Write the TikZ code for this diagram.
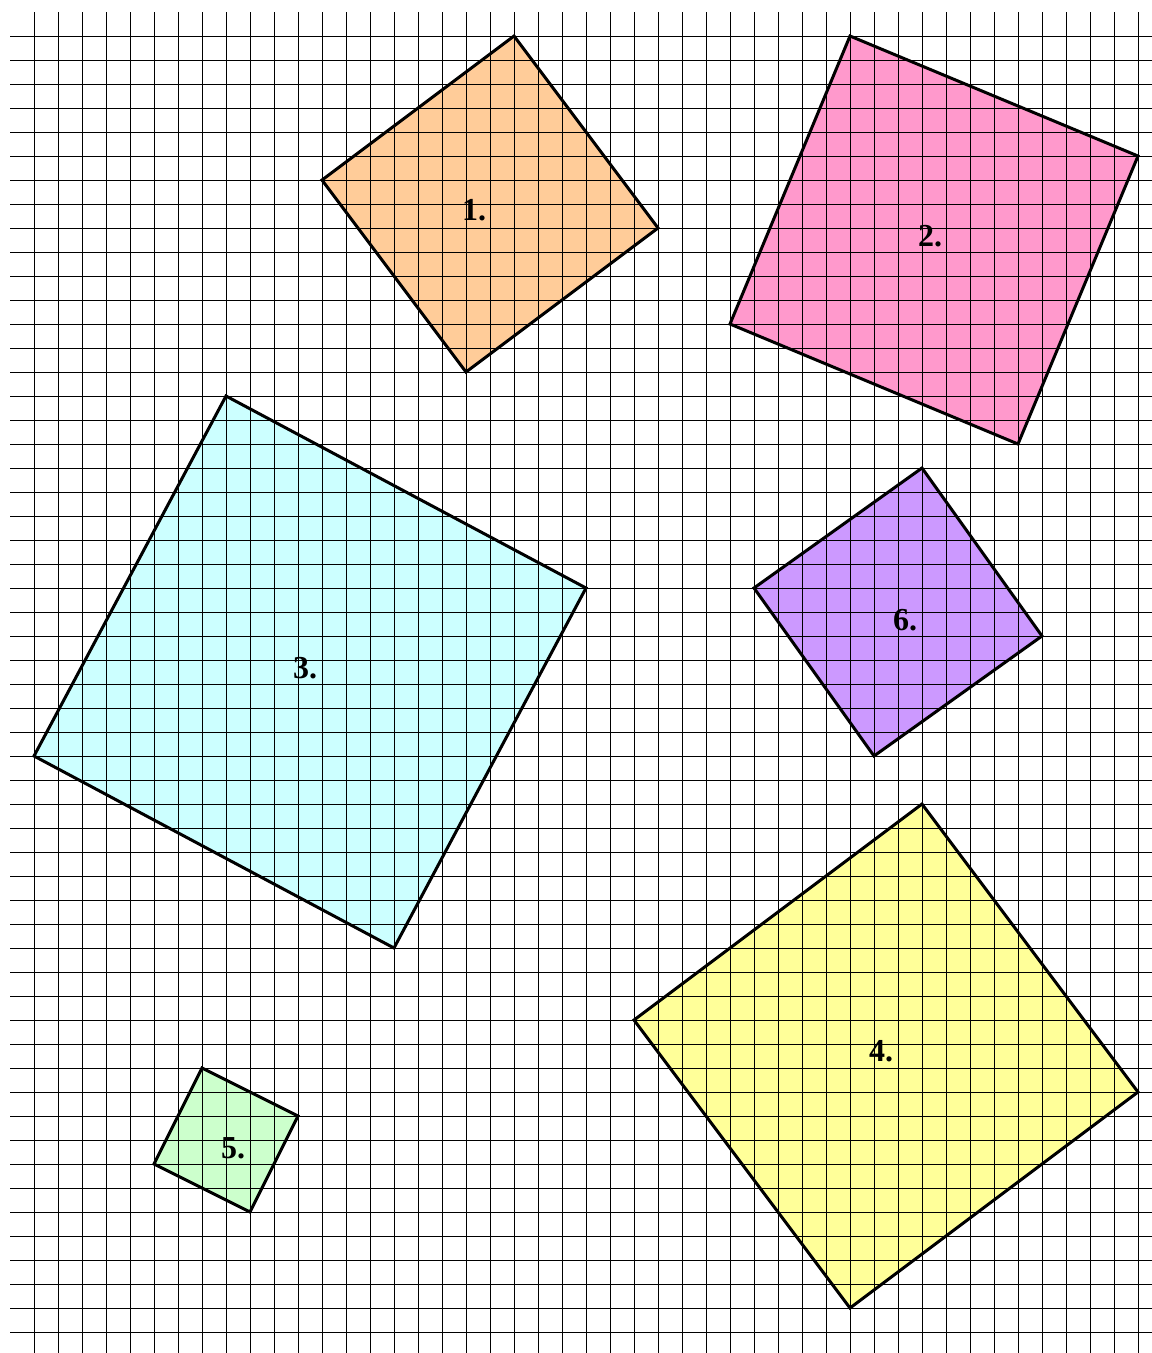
\documentclass[tikz,border=0pt]{standalone}
\usepackage{fontspec}
\setmainfont{Liberation Serif}
\definecolor{cOne}{HTML}{FFCC99}
\definecolor{cTwo}{HTML}{FF99CC}
\definecolor{cThree}{HTML}{CCFFFF}
\definecolor{cFour}{HTML}{FFFF99}
\definecolor{cFive}{HTML}{CCFFCC}
\definecolor{cSix}{HTML}{CC99FF}
\begin{document}
\begin{tikzpicture}[x=1pt,y=-1pt,
  gridline/.style={black,line width=1pt},
  sq/.style={draw=black,line width=3pt,line join=miter},
  lbl/.style={font=\fontsize{32}{32}\selectfont\bfseries,inner sep=0pt}]
\useasboundingbox (0,0) rectangle (1152,1353);
% fills
\fill[cOne] (322,180) -- (514,36) -- (658,228) -- (466,372) -- cycle;
\fill[cTwo] (850,36) -- (1138,156) -- (1018,444) -- (730,324) -- cycle;
\fill[cThree] (226,396) -- (586,588) -- (394,948) -- (34,756) -- cycle;
\fill[cFour] (922,804) -- (1138,1092) -- (850,1308) -- (634,1020) -- cycle;
\fill[cFive] (202,1068) -- (298,1116) -- (250,1212) -- (154,1164) -- cycle;
\fill[cSix] (922,468) -- (1042,636) -- (874,756) -- (754,588) -- cycle;
% grid
\foreach \i in {0,...,46} {\draw[gridline] ({34+24*\i},12) -- ({34+24*\i},1353);}
\foreach \j in {0,...,54} {\draw[gridline] (10,{36+24*\j}) -- (1152,{36+24*\j});}
% outlines
\draw[sq] (322,180) -- (514,36) -- (658,228) -- (466,372) -- cycle;
\draw[sq] (850,36) -- (1138,156) -- (1018,444) -- (730,324) -- cycle;
\draw[sq] (226,396) -- (586,588) -- (394,948) -- (34,756) -- cycle;
\draw[sq] (922,804) -- (1138,1092) -- (850,1308) -- (634,1020) -- cycle;
\draw[sq] (202,1068) -- (298,1116) -- (250,1212) -- (154,1164) -- cycle;
\draw[sq] (922,468) -- (1042,636) -- (874,756) -- (754,588) -- cycle;
% labels
\node[lbl] (l1) at (474,210) {1.};
\node[lbl] (l2) at (930,236) {2.};
\node[lbl] (l3) at (305,668) {3.};
\node[lbl] (l4) at (881,1051) {4.};
\node[lbl] (l5) at (233,1148) {5.};
\node[lbl] (l6) at (905,620) {6.};
\end{tikzpicture}
\end{document}
